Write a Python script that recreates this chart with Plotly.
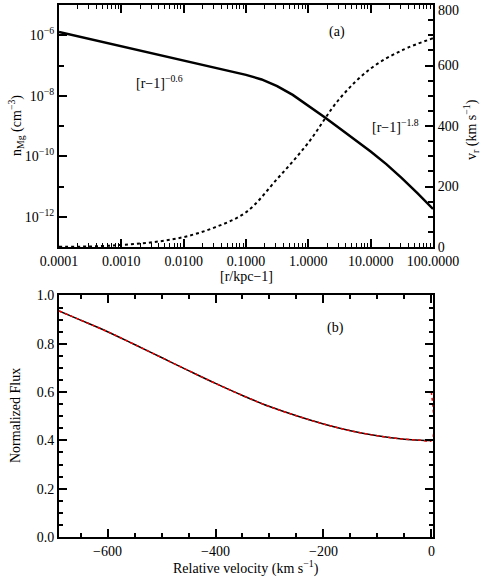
'''
    Two-panel figure: Mg density / outflow velocity profile (a)
    and the resulting normalized absorption profile (b).
'''
import plotly.graph_objects as go

# panel (a): r - 1 in kpc and log10 of the density n_Mg (cm^-3), solid curve
r_minus_1_n = [1e-4, 3.16e-4, 1e-3, 3.16e-3, 1e-2, 3.16e-2, 1e-1, 0.178, 0.316,
               0.562, 1.0, 1.78, 3.16, 5.62, 10.0, 17.8, 31.6, 56.2, 100.0]
log_n_mg = [-5.89, -6.13, -6.37, -6.61, -6.84, -7.07, -7.31, -7.46, -7.68,
            -7.97, -8.32, -8.69, -9.07, -9.45, -9.84, -10.26, -10.72, -11.22, -11.74]
n_mg = [10 ** v for v in log_n_mg]

# outflow velocity v_r (km/s), dotted curve
r_minus_1_v = [1e-4, 3.16e-4, 1e-3, 3.16e-3, 1e-2, 3.16e-2, 1e-1, 3.16e-1,
               1.0, 3.16, 10.0, 31.6, 100.0]
v_r = [1, 2, 7, 16, 33, 65, 115, 225, 345, 490, 590, 650, 690]

# panel (b): normalized flux vs relative velocity (km/s)
vel = [-690, -650, -600, -550, -500, -450, -400, -350, -300, -250, -200,
       -150, -100, -50, -20, 0]
flux_model = [0.936, 0.898, 0.850, 0.797, 0.743, 0.689, 0.636, 0.586, 0.540,
              0.502, 0.468, 0.440, 0.419, 0.405, 0.401, 0.400]
vel_data = vel + [0]
flux_data = flux_model + [0.600]

x_ticks_a = [1e-4, 1e-3, 1e-2, 1e-1, 1, 10, 100]
x_labels_a = ['0.0001', '0.0010', '0.0100', '0.1000', '1.0000', '10.0000', '100.0000']
y_ticks_a = [1e-12, 1e-10, 1e-8, 1e-6]
y_labels_a = ['10<sup>−12</sup>', '10<sup>−10</sup>', '10<sup>−8</sup>', '10<sup>−6</sup>']
v_ticks_a = [0, 200, 400, 600, 800]
# the top label (800) sits at the figure edge, it is written as an annotation
v_labels_a = ['0', '200', '400', '600', '']

FONT = 'Liberation Serif'
W, H = 485, 581
ML, MR, MT, MB = 59, 52, 5, 44

fig = go.Figure()

fig.add_trace(go.Scatter(x=r_minus_1_n, y=n_mg, mode='lines', xaxis='x', yaxis='y',
                         line=dict(color='black', width=2.5),
                         showlegend=False))
fig.add_trace(go.Scatter(x=r_minus_1_v, y=v_r, mode='lines', xaxis='x', yaxis='y2',
                         line=dict(color='black', width=2, dash='dot', shape='spline'),
                         showlegend=False))
fig.add_trace(go.Scatter(x=vel, y=flux_model, mode='lines', xaxis='x2', yaxis='y3',
                         line=dict(color='black', width=1.5, shape='spline'),
                         showlegend=False))
fig.add_trace(go.Scatter(x=vel_data, y=flux_data, mode='lines', xaxis='x2', yaxis='y3',
                         line=dict(color='red', width=1.5, dash='dot', shape='spline'),
                         showlegend=False))

# minor tick positions
minor_log_x = [m * 10 ** e for e in range(-4, 2) for m in range(2, 10)]
minor_log_y = [10.0 ** e for e in (-13, -11, -9, -7, -5)]

axis_common = dict(showline=True, linecolor='black', linewidth=2, ticks='inside',
                   tickcolor='black', tickwidth=1.5, ticklen=8, showgrid=False,
                   zeroline=False, automargin=False, ticklabeloverflow='allow',
                   tickfont=dict(family=FONT, size=14, color='black'))

fig.update_layout(
    width=W, height=H,
    margin=dict(l=ML, r=MR, t=MT, b=MB, autoexpand=False),
    paper_bgcolor='white', plot_bgcolor='white',
    font=dict(family=FONT, size=14, color='black'),
    xaxis=dict(axis_common, type='log', range=[-4, 2], domain=[0, 1], anchor='y',
               tickvals=x_ticks_a, ticktext=x_labels_a, mirror='ticks',
               minor=dict(tickvals=minor_log_x, ticklen=4, ticks='inside',
                          tickcolor='black', tickwidth=1)),
    yaxis=dict(axis_common, type='log', range=[-13, -5], domain=[0.545, 1.0], anchor='x',
               tickvals=y_ticks_a, ticktext=y_labels_a,
               minor=dict(tickvals=minor_log_y, ticklen=5, ticks='inside',
                          tickcolor='black', tickwidth=1.5)),
    yaxis2=dict(axis_common, range=[0, 800], overlaying='y', side='right', anchor='x',
                tickvals=v_ticks_a, ticktext=v_labels_a,
                minor=dict(dtick=50, ticklen=5, ticks='inside',
                           tickcolor='black', tickwidth=1.5)),
    xaxis2=dict(axis_common, range=[-690, 3], domain=[0, 1], anchor='y3',
                tickvals=[-600, -400, -200, 0], mirror='ticks',
                minor=dict(dtick=50, tick0=0, ticklen=4, ticks='inside',
                           tickcolor='black', tickwidth=1.5)),
    yaxis3=dict(axis_common, range=[0, 1], domain=[0, 0.454], anchor='x2',
                dtick=0.2, tickformat='.1f', mirror='ticks',
                minor=dict(dtick=0.05, ticklen=4, ticks='inside',
                           tickcolor='black', tickwidth=1.5)),
)

ann = dict(showarrow=False, xanchor='center', yanchor='middle',
           font=dict(family=FONT, size=14, color='black'))
fig.add_annotation(ann, text='(a)', xref='x domain', yref='y domain', x=0.743, y=0.888)
fig.add_annotation(ann, text='[r−1]<sup>−0.6</sup>', xref='x domain', yref='y domain',
                   x=0.27, y=0.682)
fig.add_annotation(ann, text='[r−1]<sup>−1.8</sup>', xref='x domain', yref='y domain',
                   x=0.90, y=0.50)
fig.add_annotation(ann, text='(b)', xref='x2 domain', yref='y3 domain', x=0.738, y=0.865)


# axis titles, placed in pixel terms of the paper
def px_x(x):
    return (x - ML) / (W - ML - MR)


def px_y(y):
    return (H - MB - y) / (H - MT - MB)


fig.add_annotation(ann, text=str(v_ticks_a[-1]), xref='paper', yref='paper',
                   x=px_x(436), y=px_y(11), xanchor='left')
fig.add_annotation(ann, text='n<sub>Mg</sub> (cm<sup>−3</sup>)', textangle=-90,
                   xref='paper', yref='paper', x=px_x(16), y=px_y(126))
fig.add_annotation(ann, text='v<sub>r</sub> (km s<sup>−1</sup>)', textangle=-90,
                   xref='paper', yref='paper', x=px_x(471), y=px_y(130))
fig.add_annotation(ann, text='[r/kpc−1]', xref='paper', yref='paper',
                   x=px_x(246), y=px_y(276))
fig.add_annotation(ann, text='Normalized Flux', textangle=-90,
                   xref='paper', yref='paper', x=px_x(16), y=px_y(416))
fig.add_annotation(ann, text='Relative velocity (km s<sup>−1</sup>)',
                   xref='paper', yref='paper', x=px_x(246), y=px_y(567))

# the page body has a default 8px margin; drop it so the figure fills the window
fig.write_html('out.html', config={'displayModeBar': False},
               post_script="document.body.style.margin='0px';")
